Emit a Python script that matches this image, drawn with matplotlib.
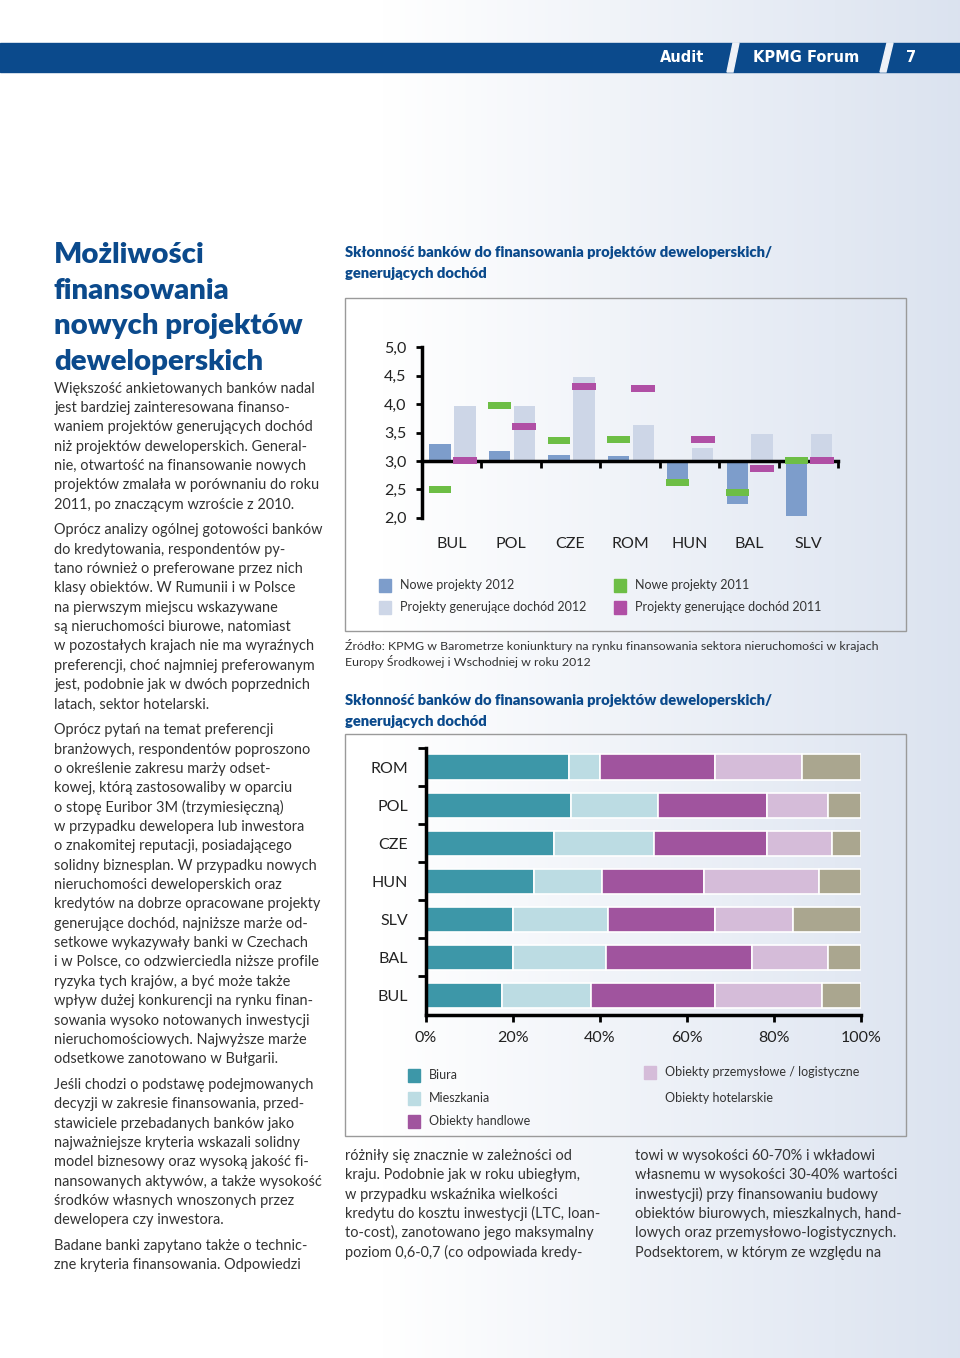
import numpy as np
import matplotlib
matplotlib.use('Agg')
import matplotlib.pyplot as plt
from matplotlib.patches import Rectangle, Polygon

W, H = 960, 1358

# --- wykres 1: sklonnosc bankow (skala 2-5, os w 3,0)
kraje1 = ['BUL', 'POL', 'CZE', 'ROM', 'HUN', 'BAL', 'SLV']
nowe_2012 = [3.30, 3.17, 3.10, 3.08, 2.64, 2.24, 2.03]
dochod_2012 = [3.97, 3.97, 4.48, 3.63, 3.23, 3.48, 3.48]
nowe_2011 = [2.50, 3.98, 3.36, 3.37, 2.62, 2.44, 3.00]
dochod_2011 = [3.00, 3.61, 4.31, 4.28, 3.37, 2.87, 3.00]
yticks1 = [2.0, 2.5, 3.0, 3.5, 4.0, 4.5, 5.0]
legenda1 = ['Nowe projekty 2012', 'Projekty generujące dochód 2012',
            'Nowe projekty 2011', 'Projekty generujące dochód 2011']

# --- wykres 2: struktura sektorowa (%), od gory do dolu
kraje2 = ['ROM', 'POL', 'CZE', 'HUN', 'SLV', 'BAL', 'BUL']
biura = [33.0, 33.5, 29.5, 25.0, 20.0, 20.0, 17.5]
mieszkania = [7.0, 20.0, 23.0, 15.5, 22.0, 21.5, 20.5]
handlowe = [26.5, 25.0, 26.0, 23.5, 24.5, 33.5, 28.5]
przemyslowe = [20.0, 14.0, 15.0, 26.5, 18.0, 17.5, 24.5]
hotelarskie = [13.5, 7.5, 6.5, 9.5, 15.5, 7.5, 9.0]
sektory = ['Biura', 'Mieszkania', 'Obiekty handlowe',
           'Obiekty przemysłowe / logistyczne', 'Obiekty hotelarskie']
xticks2 = [0, 20, 40, 60, 80, 100]

# --- teksty strony
naglowek = ['Audit', 'KPMG Forum', '7']
tytul = ['Możliwości', 'finansowania', 'nowych projektów', 'deweloperskich']
akapity = [
    ['Większość ankietowanych banków nadal',
     'jest bardziej zainteresowana finanso-',
     'waniem projektów generujących dochód',
     'niż projektów deweloperskich. General-',
     'nie, otwartość na finansowanie nowych',
     'projektów zmalała w porównaniu do roku',
     '2011, po znaczącym wzroście z 2010.'],
    ['Oprócz analizy ogólnej gotowości banków',
     'do kredytowania, respondentów py-',
     'tano również o preferowane przez nich',
     'klasy obiektów. W Rumunii i w Polsce',
     'na pierwszym miejscu wskazywane',
     'są nieruchomości biurowe, natomiast',
     'w pozostałych krajach nie ma wyraźnych',
     'preferencji, choć najmniej preferowanym',
     'jest, podobnie jak w dwóch poprzednich',
     'latach, sektor hotelarski.'],
    ['Oprócz pytań na temat preferencji',
     'branżowych, respondentów poproszono',
     'o określenie zakresu marży odset-',
     'kowej, którą zastosowaliby w oparciu',
     'o stopę Euribor 3M (trzymiesięczną)',
     'w przypadku dewelopera lub inwestora',
     'o znakomitej reputacji, posiadającego',
     'solidny biznesplan. W przypadku nowych',
     'nieruchomości deweloperskich oraz',
     'kredytów na dobrze opracowane projekty',
     'generujące dochód, najniższe marże od-',
     'setkowe wykazywały banki w Czechach',
     'i w Polsce, co odzwierciedla niższe profile',
     'ryzyka tych krajów, a być może także',
     'wpływ dużej konkurencji na rynku finan-',
     'sowania wysoko notowanych inwestycji',
     'nieruchomościowych. Najwyższe marże',
     'odsetkowe zanotowano w Bułgarii.'],
    ['Jeśli chodzi o podstawę podejmowanych',
     'decyzji w zakresie finansowania, przed-',
     'stawiciele przebadanych banków jako',
     'najważniejsze kryteria wskazali solidny',
     'model biznesowy oraz wysoką jakość fi-',
     'nansowanych aktywów, a także wysokość',
     'środków własnych wnoszonych przez',
     'dewelopera czy inwestora.'],
    ['Badane banki zapytano także o technic-',
     'zne kryteria finansowania. Odpowiedzi'],
]
dol_lewa = ['różniły się znacznie w zależności od',
            'kraju. Podobnie jak w roku ubiegłym,',
            'w przypadku wskaźnika wielkości',
            'kredytu do kosztu inwestycji (LTC, loan-',
            'to-cost), zanotowano jego maksymalny',
            'poziom 0,6-0,7 (co odpowiada kredy-']
dol_prawa = ['towi w wysokości 60-70% i wkładowi',
             'własnemu w wysokości 30-40% wartości',
             'inwestycji) przy finansowaniu budowy',
             'obiektów biurowych, mieszkalnych, hand-',
             'lowych oraz przemysłowo-logistycznych.',
             'Podsektorem, w którym ze względu na']
tytul_wykresu = ['Skłonność banków do finansowania projektów deweloperskich/',
                 'generujących dochód']
zrodlo = ['Źródło: KPMG w Barometrze koniunktury na rynku finansowania sektora nieruchomości w krajach',
          'Europy Środkowej i Wschodniej w roku 2012']

NIEBIESKI = '#0b4a8c'
TEKST = '#333333'
c_nowe12, c_doch12, c_nowe11, c_doch11 = '#7d9dcb', '#cdd6e7', '#6dbe45', '#b04fa5'
kolory2 = ['#3d97a8', '#bcdce3', '#a0549e', '#d5bcd9', '#aaa68f']
BODY = ['Lato', 'DejaVu Sans']

fig = plt.figure(figsize=(W / 100, H / 100), dpi=100)

# tlo calej strony w pikselach
bg = fig.add_axes([0, 0, 1, 1])
t = np.linspace(0, 1, 400)
w = np.clip((t - 0.4) / 0.6, 0, 1)[None, :, None]
grad = (1 - w) * np.array([1, 1, 1]) + w * np.array([0.86, 0.89, 0.94])
bg.imshow(grad, extent=[0, W, H, 0], aspect='auto', zorder=0)
bg.set_xlim(0, W)
bg.set_ylim(H, 0)
bg.axis('off')

# pasek naglowka
bg.add_patch(Rectangle((0, 43), W, 29, color=NIEBIESKI, zorder=1))
for xt, xb in [(733, 727), (887, 880)]:
    bg.add_patch(Polygon([(xt, 43), (xt + 6, 43), (xb + 6, 72), (xb, 72)],
                         color='#eef1f7', zorder=2))
for txt, xc in zip(naglowek, [682, 806, 911]):
    bg.text(xc, 58, txt, color='white', fontsize=10.5, fontweight='bold',
            family=['Liberation Sans Narrow', 'DejaVu Sans'], ha='center', va='center', zorder=3)

# tytul artykulu
for i, s in enumerate(tytul):
    bg.text(54, 263 + i * 35.6, s, color=NIEBIESKI, fontsize=21.2, fontweight='heavy',
            family=BODY, va='baseline')

# lewa kolumna
y = 387.5
for ak in akapity:
    for s in ak:
        bg.text(54, y + 5, s, color=TEKST, fontsize=10.45, fontweight='normal',
                family=BODY, va='baseline')
        y += 19.35
    y += 6.4

# dolne kolumny
for i in range(len(dol_lewa)):
    bg.text(345, 1160 + i * 19.35, dol_lewa[i], color=TEKST, fontsize=10.45,
            fontweight='normal', family=BODY, va='baseline')
    bg.text(635, 1160 + i * 19.35, dol_prawa[i], color=TEKST, fontsize=10.45,
            fontweight='normal', family=BODY, va='baseline')

# tytuly wykresow i zrodlo
for y0 in [257, 705]:
    for i, s in enumerate(tytul_wykresu):
        bg.text(345, y0 + i * 21.5, s, color=NIEBIESKI, fontsize=10.6,
                fontweight='heavy', family=BODY, va='baseline')
for i, s in enumerate(zrodlo):
    bg.text(345, 650.5 + i * 16, s, color=TEKST, fontsize=8.95, fontweight='normal',
            family=BODY, va='baseline')

# ramki wykresow
bg.add_patch(Rectangle((345, 297.5), 561, 333, fill=False, ec='#9a9a9a', lw=1, zorder=2))
bg.add_patch(Rectangle((345, 733.5), 561, 402.5, fill=False, ec='#9a9a9a', lw=1, zorder=2))


def add_ax(x0, y0, x1, y1):
    a = fig.add_axes([x0 / W, 1 - y1 / H, (x1 - x0) / W, (y1 - y0) / H])
    a.patch.set_alpha(0)
    return a


# ---------- wykres 1
ax1 = add_ax(421.8, 347.3, 838, 517.7)
x = np.arange(len(kraje1))
ax1.bar(x + 0.305, np.array(nowe_2012) - 3, bottom=3, width=0.36, color=c_nowe12, zorder=1)
ax1.bar(x + 0.725, np.array(dochod_2012) - 3, bottom=3, width=0.36, color=c_doch12, zorder=1)
ax1.bar(x + 0.305, 0.12, bottom=np.array(nowe_2011) - 0.06, width=0.38, color=c_nowe11, zorder=3)
ax1.bar(x + 0.725, 0.12, bottom=np.array(dochod_2011) - 0.06, width=0.40, color=c_doch11, zorder=3)
ax1.set_xlim(0, 7)
ax1.set_ylim(2, 5)
for s in ['top', 'right']:
    ax1.spines[s].set_visible(False)
ax1.spines['left'].set_linewidth(2.5)
ax1.spines['bottom'].set_linewidth(2.5)
ax1.spines['bottom'].set_position(('data', 3.0))
ax1.set_yticks(yticks1)
ax1.set_yticklabels([f'{v:.1f}'.replace('.', ',') for v in yticks1])
ax1.set_xticks(range(1, 8))
ax1.set_xticklabels([])
ax1.tick_params(axis='y', direction='out', length=4, width=2, labelsize=11.5, pad=7,
                labelcolor='#222222')
ax1.tick_params(axis='x', direction='out', length=5, width=2)
for lab in ax1.get_yticklabels():
    lab.set_family(BODY)
for i, k in enumerate(kraje1):
    ax1.text(i + 0.5, -0.154, k, transform=ax1.get_xaxis_transform(), ha='center',
             va='center', fontsize=11.5, family=BODY, color='#222222')

# legenda 1
for (sx, sy), kol, lab in zip([(379, 585), (379, 607), (614, 585), (614, 607)],
                               [c_nowe12, c_doch12, c_nowe11, c_doch11], legenda1):
    bg.add_patch(Rectangle((sx, sy - 6.5), 12, 13, color=kol, zorder=2))
    bg.text(sx + 21, sy, lab, fontsize=9, family=BODY, color=TEKST, va='center')

# ---------- wykres 2
ax2 = add_ax(425.5, 748, 860.7, 1015)
yy = 6 - np.arange(len(kraje2))
left = np.zeros(len(kraje2))
for vals, kol in zip([biura, mieszkania, handlowe, przemyslowe, hotelarskie], kolory2):
    ax2.barh(yy, vals, left=left, height=0.66, color=kol, edgecolor='white', linewidth=1.2)
    left += np.array(vals)
ax2.set_xlim(0, 100)
ax2.set_ylim(-0.52, 6.5)
for s in ['top', 'right']:
    ax2.spines[s].set_visible(False)
ax2.spines['left'].set_linewidth(2.5)
ax2.spines['bottom'].set_linewidth(2.5)
ax2.set_xticks(xticks2)
ax2.set_xticklabels([f'{v}%' for v in xticks2])
ax2.set_yticks(np.arange(0.5, 7, 1))
ax2.set_yticklabels([])
ax2.set_yticks(yy, minor=True)
ax2.set_yticklabels(kraje2, minor=True)
ax2.tick_params(axis='y', which='major', direction='out', length=6, width=2)
ax2.tick_params(axis='y', which='minor', length=0, pad=12.5, labelsize=11.5, labelcolor='#222222')
ax2.tick_params(axis='x', direction='out', length=5, width=2, pad=6.5, labelsize=11.5,
                labelcolor='#222222')
for lab in ax2.get_xticklabels() + ax2.get_yticklabels(minor=True):
    lab.set_family(BODY)

# legenda 2 (bez kwadratu dla hoteli, jak w oryginale)
for (sx, sy), kol, lab in zip([(408, 1075), (408, 1098), (408, 1121), (643.6, 1072.5), (643.6, 1098)],
                               kolory2[:4] + [None], sektory):
    if kol is not None:
        bg.add_patch(Rectangle((sx, sy - 6.5), 12, 13, color=kol, zorder=2))
    bg.text(sx + 21, sy, lab, fontsize=9, family=BODY, color=TEKST, va='center')

fig.savefig('out.png', dpi=100)
